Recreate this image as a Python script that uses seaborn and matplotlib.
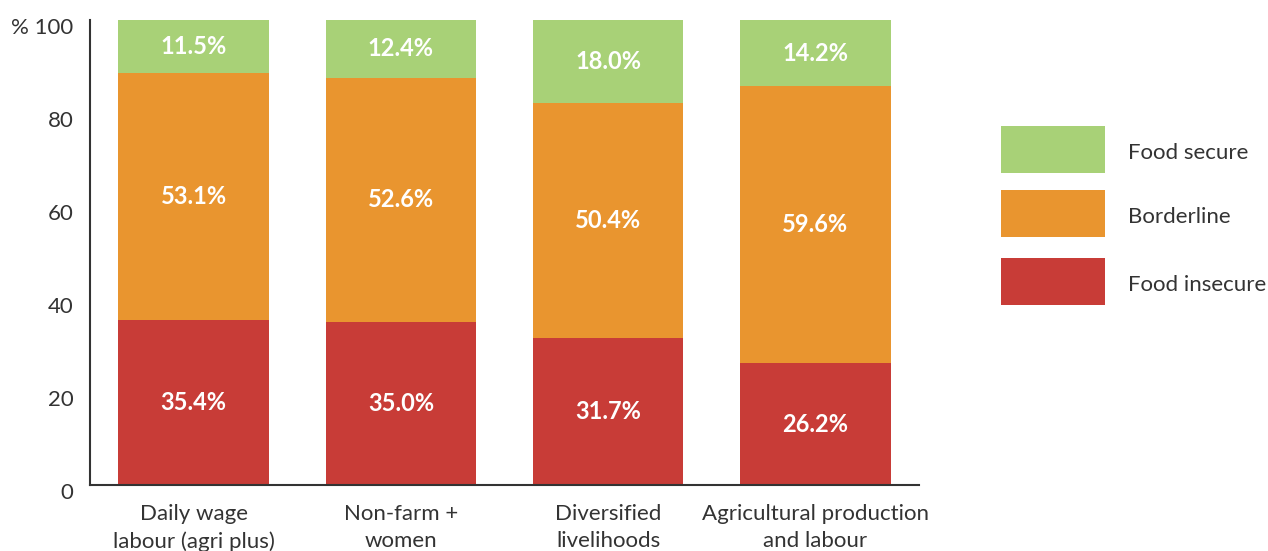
import numpy as np
import pandas as pd
import seaborn as sns
import matplotlib.pyplot as plt
from matplotlib.patches import Rectangle
from matplotlib.transforms import ScaledTranslation

# Data
groups = ["Daily wage\nlabour (agri plus)", "Non-farm +\nwomen",
          "Diversified\nlivelihoods", "Agricultural production\nand labour"]
food_insecure = [35.4, 35.0, 31.7, 26.2]
borderline = [53.1, 52.6, 50.4, 59.6]
food_secure = [11.5, 12.4, 18.0, 14.2]
legend_labels = ["Food secure", "Borderline", "Food insecure"]

c_secure = "#a8d177"
c_border = "#e9952f"
c_insecure = "#c83c37"
txt = "#333333"

sns.set_style("white")
plt.rcParams["font.family"] = ["Lato", "DejaVu Sans"]

df = pd.DataFrame({"group": groups, "insecure": food_insecure,
                   "border": borderline, "secure": food_secure})
df["top_border"] = df["insecure"] + df["border"]
df["top_secure"] = df["top_border"] + df["secure"]

W, H = 1268, 551
fig = plt.figure(figsize=(W / 100, H / 100), dpi=100)
ax = fig.add_axes([90 / W, 1 - 485 / H, (919 - 90) / W, 465 / H])

# stacked bars drawn as overlapping cumulative totals
sns.barplot(data=df, x="group", y="top_secure", color=c_secure, saturation=1,
            width=0.725, ax=ax)
sns.barplot(data=df, x="group", y="top_border", color=c_border, saturation=1,
            width=0.725, ax=ax)
sns.barplot(data=df, x="group", y="insecure", color=c_insecure, saturation=1,
            width=0.725, ax=ax)
for p in ax.patches:
    p.set_linewidth(0)

# segment labels
for i, row in df.iterrows():
    segs = [(0, row["insecure"]), (row["insecure"], row["top_border"]),
            (row["top_border"], row["top_secure"])]
    vals = [row["insecure"], row["border"], row["secure"]]
    for (lo, hi), v in zip(segs, vals):
        ax.text(i, (lo + hi) / 2, f"{v:.1f}%", ha="center", va="center",
                color="white", fontsize=17, fontweight="bold")

ax.set_xlim(-0.5, 3.5)
ax.set_ylim(0, 100)
ax.set_xlabel("")
ax.set_ylabel("")
ax.set_yticks([0, 20, 40, 60, 80, 100])
ax.set_yticklabels(["0", "20", "40", "60", "80", "% 100"], fontsize=16, color=txt)
ax.tick_params(axis="y", length=0, pad=12)
ax.tick_params(axis="x", length=0, pad=14, labelsize=16, labelcolor=txt)
for lab in ax.get_xticklabels():
    lab.set_linespacing(1.4)
shift = ScaledTranslation(0, -4 / 72, fig.dpi_scale_trans)
for lab in ax.get_yticklabels():
    lab.set_transform(lab.get_transform() + shift)
ax.set_xticks(np.arange(len(groups)) + 0.5, minor=True)
ax.tick_params(axis="x", which="minor", direction="in", length=9, width=1.5, color=txt)

sns.despine(ax=ax)
for s in ["left", "bottom"]:
    ax.spines[s].set_color(txt)
    ax.spines[s].set_linewidth(1.5)

# legend drawn as figure patches
leg_colors = [c_secure, c_border, c_insecure]
leg_tops = [126, 190, 258]
for lbl, col, top in zip(legend_labels, leg_colors, leg_tops):
    fig.patches.append(Rectangle((1001 / W, 1 - (top + 47) / H), 104 / W, 47 / H,
                                 transform=fig.transFigure, facecolor=col,
                                 edgecolor="none"))
    fig.text(1128 / W, 1 - (top + 27) / H, lbl, ha="left", va="center",
             fontsize=16, color=txt)

fig.savefig("out.png", dpi=100)
